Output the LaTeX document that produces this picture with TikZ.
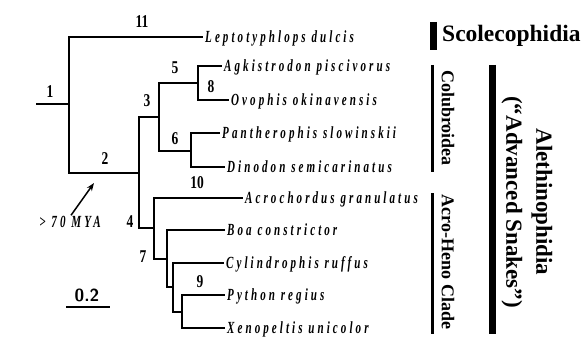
\documentclass[tikz,border=0pt]{standalone}
\usepackage{fontspec}
\setmainfont{Liberation Serif}
\newfontfamily\taxfont[LetterSpace=18,FakeStretch=0.65]{Liberation Serif}
\newfontfamily\numfont[FakeStretch=0.75]{Liberation Serif}
\usetikzlibrary{arrows.meta}

\begin{document}
\begin{tikzpicture}[x=1pt,y=-1pt,
	branch/.style={black,line width=2pt},
	taxon/.style={anchor=west,inner sep=2pt,text height=11pt,text depth=0pt,
		font=\taxfont\bfseries\itshape\fontsize{17}{19}\selectfont},
	num/.style={inner sep=0pt,font=\numfont\bfseries\fontsize{18}{20}\selectfont},
	clade/.style={inner sep=0pt,rotate=-90,font=\bfseries\fontsize{18}{22}\selectfont}]
	\useasboundingbox (0,0) rectangle (587,345);
	% Internal nodes
	\coordinate (r) at (36,104);
	\coordinate (n1) at (69,104);
	\coordinate (n2) at (139,173);
	\coordinate (n3) at (159,117);
	\coordinate (n5) at (198,83);
	\coordinate (n6) at (191,151);
	\coordinate (n4) at (154,228);
	\coordinate (n7) at (167,259);
	\coordinate (na) at (173,287);
	\coordinate (n9) at (182,312);
	% Taxa
	\node[taxon] (lep) at (203,37) {Leptotyphlops dulcis};
	\node[taxon] (agk) at (222,66) {Agkistrodon piscivorus};
	\node[taxon] (ovo) at (229,100) {Ovophis okinavensis};
	\node[taxon] (pan) at (220,133) {Pantherophis slowinskii};
	\node[taxon] (din) at (225,167) {Dinodon semicarinatus};
	\node[taxon] (acr) at (243,198) {Acrochordus granulatus};
	\node[taxon] (boa) at (225,230) {Boa constrictor};
	\node[taxon] (cyl) at (224,263) {Cylindrophis ruffus};
	\node[taxon] (pyt) at (225,295) {Python regius};
	\node[taxon] (xen) at (225,328) {Xenopeltis unicolor};
	% Branches
	\draw[branch] (r) -- (n1);
	\draw[branch] (n1) |- (lep.west);
	\draw[branch] (n1) |- (n2);
	\draw[branch] (n2) |- (n3);
	\draw[branch] (n2) |- (n4);
	\draw[branch] (n3) |- (n5);
	\draw[branch] (n3) |- (n6);
	\draw[branch] (n5) |- (agk.west);
	\draw[branch] (n5) |- (ovo.west);
	\draw[branch] (n6) |- (pan.west);
	\draw[branch] (n6) |- (din.west);
	\draw[branch] (n4) |- (acr.west);
	\draw[branch] (n4) |- (n7);
	\draw[branch] (n7) |- (boa.west);
	\draw[branch] (n7) |- (na);
	\draw[branch] (na) |- (cyl.west);
	\draw[branch] (na) |- (n9);
	\draw[branch] (n9) |- (pyt.west);
	\draw[branch] (n9) |- (xen.west);
	% Node numbers
	\node[num] (l1) at (50,92) {1};
	\node[num] (l11) at (142,22) {11};
	\node[num] (l2) at (105,159) {2};
	\node[num] (l3) at (147,101) {3};
	\node[num] (l5) at (175,68) {5};
	\node[num] (l8) at (211,87) {8};
	\node[num] (l6) at (175,139) {6};
	\node[num] (l10) at (197,183) {10};
	\node[num] (l4) at (130,222) {4};
	\node[num] (l7) at (143,257) {7};
	\node[num] (l9) at (200,282) {9};
	% Age and scale
	\node[taxon,anchor=center] (mya) at (70,222) {> 70 MYA};
	\coordinate (tip) at (94,183);
	\draw[line width=1.5pt,-{Stealth[length=8pt,width=6pt]}] ([xshift=1pt,yshift=-1pt]mya.north) -- (tip);
	\node[inner sep=0pt,font=\sffamily\bfseries\fontsize{17.5}{19}\selectfont] (sb) at (87,295) {0.2};
	\coordinate (sbl) at (66,307);
	\coordinate (sbr) at (110,307);
	\draw[line width=2pt] (sbl) -- (sbr);
	% Clades
	\draw[line width=7pt] (433,22) -- (433,50);
	\node[anchor=west,inner sep=0pt,font=\bfseries\fontsize{23.5}{27}\selectfont] (sco) at (442,36) {Scolecophidia};
	\draw[line width=3pt] (432,65) -- (432,172);
	\node[clade] (col) at (448,118) {Colubroidea};
	\draw[line width=3pt] (432,193) -- (432,334);
	\node[clade] (ahc) at (448,262) {Acro-Heno Clade};
	\draw[line width=7pt] (492,65) -- (492,334);
	\node[clade,align=center,font=\bfseries\fontsize{23}{30}\selectfont] (ale) at (527,202)
		{Alethinophidia\\(“Advanced Snakes”)};
\end{tikzpicture}
\end{document}
